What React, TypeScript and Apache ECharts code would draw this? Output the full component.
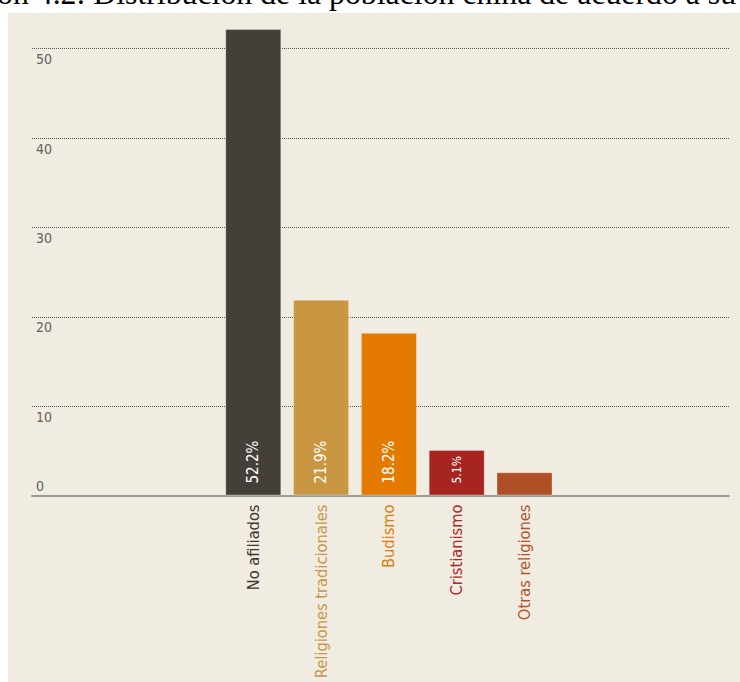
import React, { useEffect, useRef } from "react";
import * as echarts from "echarts";

const categories = [
  "No afiliados",
  "Religiones tradicionales",
  "Budismo",
  "Cristianismo",
  "Otras religiones",
];
const values = [52.2, 21.9, 18.2, 5.1, 2.6];
const valueLabels = ["52.2%", "21.9%", "18.2%", "5.1%", ""];
const barColors = ["#443f38", "#c99742", "#e47a00", "#a62521", "#b04e26"];
const labelColors = ["#3b3731", "#c9974a", "#e27c0c", "#a8282a", "#b2552e"];
const yTicks = [0, 10, 20, 30, 40, 50];
const titleText = "ón 4.2: Distribución de la población china de acuerdo a su";

const narrowFont = "'DejaVu Sans Condensed', 'Liberation Sans Narrow', Roboto, sans-serif";

export default function App() {
  const ref = useRef<HTMLDivElement>(null);
  useEffect(() => {
    if (!ref.current) return;
    const chart = echarts.init(ref.current, null, { renderer: "svg" });
    const yMax = 55;
    chart.setOption({
      animation: false,
      backgroundColor: "#ffffff",
      graphic: [
        {
          type: "rect",
          z: -100,
          shape: { x: 8, y: 13, width: 732, height: 669 },
          style: { fill: "#f0ece1" },
          silent: true,
        },
        {
          type: "text",
          x: -3,
          y: -7,
          z: -200,
          style: {
            text: titleText,
            fontFamily: "Liberation Serif",
            fontSize: 31.8,
            fill: "#000000",
            verticalAlign: "middle",
            align: "left",
          },
        },
      ],
      grid: [
        { left: 32, right: 11, top: 4, bottom: 186.5, containLabel: false, outerBoundsMode: "none" },
        { left: 219.4, right: 181.6, top: 4, bottom: 186.5, containLabel: false, outerBoundsMode: "none" },
      ],
      xAxis: [
        {
          type: "value",
          gridIndex: 0,
          min: 0,
          max: 1,
          axisLine: { show: true, lineStyle: { color: "#9c9c96", width: 2 } },
          axisTick: { show: false },
          axisLabel: { show: false },
          splitLine: { show: false },
        },
        {
          type: "category",
          gridIndex: 1,
          data: categories,
          axisLine: { show: false },
          axisTick: { show: false },
          axisLabel: {
            rotate: 90,
            margin: 9,
            interval: 0,
            fontFamily: narrowFont,
            fontSize: 16.3,
            color: (_v: any, i: number) => labelColors[i],
          },
        },
      ],
      yAxis: [
        {
          type: "value",
          gridIndex: 0,
          min: 0,
          max: yMax,
          interval: 10,
          axisLine: { show: false },
          axisTick: { show: false },
          splitLine: {
            show: true,
            showMinLine: false,
            showMaxLine: false,
            lineStyle: { color: "#55524c", type: [1, 1], width: 1 },
          },
          axisLabel: {
            inside: true,
            margin: 4,
            showMaxLabel: false,
            formatter: (v: number) =>
              yTicks.indexOf(v) < 0 ? "" : v === 0 ? "{z|0}" : "{n|" + v + "}",
            rich: {
              z: {
                fontFamily: narrowFont,
                fontSize: 14,
                color: "#64615a",
                padding: [0, 0, 19, 0],
              },
              n: {
                fontFamily: narrowFont,
                fontSize: 14,
                color: "#64615a",
                padding: [21, 0, 0, 0],
              },
            },
          },
        },
        {
          type: "value",
          gridIndex: 1,
          min: 0,
          max: yMax,
          show: false,
          splitLine: { show: false },
        },
      ],
      series: [
        {
          type: "bar",
          xAxisIndex: 1,
          yAxisIndex: 1,
          barWidth: 56,
          data: values.map((v, i) => ({
            value: v,
            itemStyle: {
              color: barColors[i],
              borderColor: "rgba(255,255,255,0.3)",
              borderWidth: 1,
            },
            label: {
              show: valueLabels[i] !== "",
              formatter: valueLabels[i],
              fontSize: v > 10 ? 15 : 12,
            },
          })),
          label: {
            position: "insideBottom",
            rotate: 90,
            align: "left",
            verticalAlign: "middle",
            distance: 12,
            color: "#ffffff",
            fontFamily: narrowFont,
          },
        },
      ],
    });
    return () => chart.dispose();
  }, []);
  return (
    <div
      ref={ref}
      style={{ position: "absolute", left: 0, top: 0, width: 740, height: 682 }}
    />
  );
}
